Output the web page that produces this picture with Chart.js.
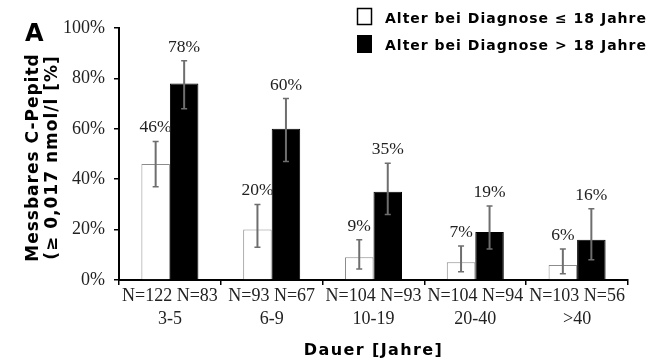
<!DOCTYPE html>
<html>
<head>
<meta charset="utf-8">
<script src="https://cdn.jsdelivr.net/npm/chart.js@4.4.0/dist/chart.umd.min.js"></script>
<style>
  html, body { margin: 0; padding: 0; background: #fff; }
  #wrap { width: 665px; height: 360px; }
</style>
</head>
<body>
<div id="wrap"><canvas id="myChart" width="665" height="360"></canvas></div>
<script>
// data
var durations = ['3-5', '6-9', '10-19', '20-40', '>40'];
var nYoung = [122, 93, 104, 104, 103];
var nOld = [83, 67, 93, 94, 56];
var youngValues = [46, 20, 9, 7, 6];
var oldValues = [78, 60, 35, 19, 16];
var youngLow = [37, 13, 4.4, 3.3, 2.5];
var youngHigh = [55, 30, 16, 13.5, 12.3];
var oldLow = [68, 47, 26, 12.3, 8];
var oldHigh = [87, 72, 46.3, 29.4, 28.3];
var legendLabels = ['Alter bei Diagnose \u2264 18 Jahre', 'Alter bei Diagnose > 18 Jahre'];

var serif = "'Liberation Serif', 'Times New Roman', serif";
var sans = "'DejaVu Sans', Verdana, sans-serif";

var labels = durations.map(function(d, i) {
  return ['N=' + nYoung[i] + ' N=' + nOld[i], d];
});

var errLows = [youngLow, oldLow];
var errHighs = [youngHigh, oldHigh];
var values = [youngValues, oldValues];

var errorBars = {
  id: 'errorBars',
  afterDatasetsDraw: function(chart) {
    var ctx = chart.ctx;
    var y = chart.scales.y;
    ctx.save();
    chart.data.datasets.forEach(function(ds, di) {
      var meta = chart.getDatasetMeta(di);
      meta.data.forEach(function(bar, i) {
        var top = y.getPixelForValue(errHighs[di][i]);
        var bot = y.getPixelForValue(errLows[di][i]);
        ctx.strokeStyle = '#6e6e6e';
        ctx.lineWidth = 2;
        ctx.beginPath();
        ctx.moveTo(bar.x, top);
        ctx.lineTo(bar.x, bot);
        ctx.stroke();
        ctx.lineWidth = 1.5;
        ctx.beginPath();
        ctx.moveTo(bar.x - 3, top); ctx.lineTo(bar.x + 3, top);
        ctx.moveTo(bar.x - 3, bot); ctx.lineTo(bar.x + 3, bot);
        ctx.stroke();
        ctx.fillStyle = '#222';
        ctx.font = '17.5px ' + serif;
        ctx.textAlign = 'center';
        ctx.textBaseline = 'alphabetic';
        ctx.fillText(values[di][i] + '%', bar.x, top - 9);
      });
    });
    ctx.restore();
  },
  afterDraw: function(chart) {
    var ctx = chart.ctx;
    ctx.save();
    ctx.fillStyle = '#000';
    ctx.textBaseline = 'alphabetic';
    // panel letter
    ctx.font = 'bold 24px ' + sans;
    ctx.textAlign = 'left';
    ctx.fillText('A', 25, 41);
    // legend
    ctx.letterSpacing = '1px';
    ctx.font = 'bold 14px ' + sans;
    ctx.strokeStyle = '#000';
    ctx.lineWidth = 1.5;
    ctx.fillStyle = '#fff';
    ctx.fillRect(357.5, 8.5, 14, 16);
    ctx.strokeRect(357.5, 8.5, 14, 16);
    ctx.fillStyle = '#000';
    ctx.fillRect(357, 35, 15, 18);
    ctx.fillText(legendLabels[0], 385, 23);
    ctx.fillText(legendLabels[1], 385, 50);
    // axis titles
    ctx.letterSpacing = '1.4px';
    ctx.font = 'bold 16px ' + sans;
    ctx.textAlign = 'center';
    ctx.fillText('Dauer [Jahre]', 373.5, 355);
    ctx.letterSpacing = '1px';
    ctx.font = 'bold 17px ' + sans;
    ctx.translate(0, 157.5);
    ctx.rotate(-Math.PI / 2);
    ctx.fillText('Messbares C-Pepitd', 0, 38);
    ctx.fillText('(\u2265 0,017 nmol/l [%]', 0, 57);
    ctx.restore();
  }
};

var ctx = document.getElementById('myChart');

var data = {
  labels: labels,
  datasets: [{
    label: legendLabels[0],
    data: youngValues,
    backgroundColor: '#ffffff',
    borderColor: '#8c8c8c',
    borderWidth: 1
  }, {
    label: legendLabels[1],
    data: oldValues,
    backgroundColor: '#000000',
    borderColor: '#000000',
    borderWidth: 1
  }]
};

var options = {
  responsive: false,
  animation: false,
  layout: { padding: { top: 28, right: 37, bottom: 0, left: 0 } },
  datasets: { bar: { categoryPercentage: 0.56, barPercentage: 1.0 } },
  plugins: { legend: { display: false }, tooltip: { enabled: false } },
  scales: {
    x: {
      grid: { offset: true, drawOnChartArea: false, tickLength: 5, color: '#000', lineWidth: 1.5 },
      border: { color: '#000', width: 2 },
      ticks: { color: '#222', font: { family: serif, size: 18, lineHeight: 1.28 }, padding: 0, maxRotation: 0 },
      afterFit: function(scale) { scale.height = 80; }
    },
    y: {
      min: 0,
      max: 100,
      grid: { drawOnChartArea: false, tickLength: 5, color: '#000', lineWidth: 1.5 },
      border: { color: '#000', width: 2 },
      ticks: {
        stepSize: 20,
        color: '#222',
        padding: 9,
        font: { family: serif, size: 18 },
        callback: function(v) { return v + '%'; }
      },
      afterFit: function(scale) { scale.width = 119; }
    }
  }
};

new Chart(ctx, { type: 'bar', data: data, options: options, plugins: [errorBars] });
</script>
</body>
</html>
